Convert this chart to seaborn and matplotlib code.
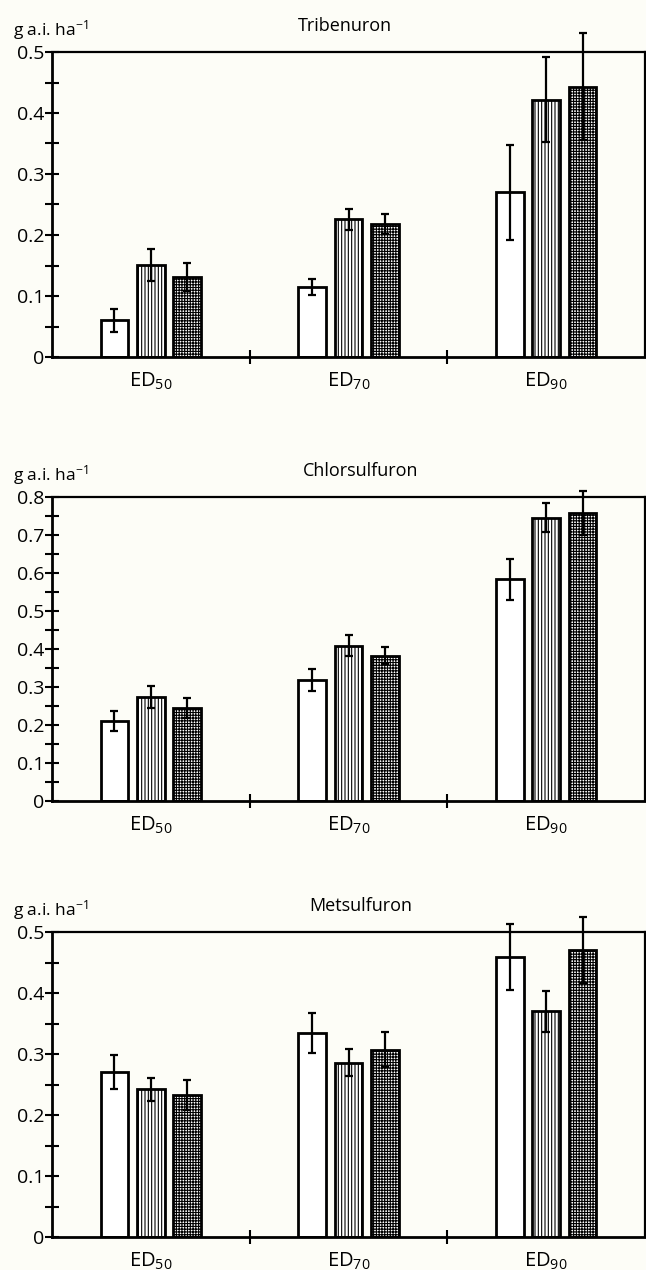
import numpy as np
import pandas as pd
import matplotlib
matplotlib.use("Agg")
import matplotlib.pyplot as plt
from matplotlib.ticker import MultipleLocator, FixedLocator, FuncFormatter
from matplotlib.container import BarContainer
import seaborn as sns

# ---------------- data ----------------
levels = ["ED50", "ED70", "ED90"]
level_labels = ["ED$_{50}$", "ED$_{70}$", "ED$_{90}$"]
series = ["S1", "S2", "S3"]
herbicides = ["Tribenuron", "Chlorsulfuron", "Metsulfuron"]

# values: rows = series (S1 white, S2 vertical hatch, S3 cross hatch), cols = ED50, ED70, ED90
trib_vals = [[0.060, 0.115, 0.270],
             [0.151, 0.226, 0.422],
             [0.131, 0.218, 0.443]]
trib_err = [[0.019, 0.013, 0.078],
            [0.026, 0.017, 0.069],
            [0.023, 0.017, 0.088]]

chlor_vals = [[0.211, 0.318, 0.583],
              [0.273, 0.409, 0.746],
              [0.244, 0.382, 0.757]]
chlor_err = [[0.027, 0.029, 0.055],
             [0.029, 0.028, 0.038],
             [0.026, 0.022, 0.058]]

mets_vals = [[0.271, 0.335, 0.459],
             [0.242, 0.286, 0.370],
             [0.233, 0.307, 0.470]]
mets_err = [[0.028, 0.033, 0.054],
            [0.019, 0.022, 0.034],
            [0.025, 0.029, 0.054]]

ymaxes = [0.5, 0.8, 0.5]

# ---------------- style ----------------
sns.set_theme(style="white")
plt.rcParams["font.family"] = ["Open Sans", "DejaVu Sans"]
plt.rcParams["mathtext.fontset"] = "custom"
plt.rcParams["mathtext.rm"] = "Open Sans"
plt.rcParams["mathtext.it"] = "Open Sans:italic"
plt.rcParams["mathtext.bf"] = "Open Sans:bold"
plt.rcParams["hatch.linewidth"] = 0.8
plt.rcParams["hatch.color"] = "black"

bg = "#fdfdf7"
hatches = ["", "|||||", "++++++"]

fig = plt.figure(figsize=(6.46, 12.70), dpi=100, facecolor=bg)

ax_left = 52 / 646
ax_width = 593 / 646
panel_px = [(52, 357), (497, 801), (932, 1237)]
title_x = [0.494, 0.52, 0.52]

all_vals = [trib_vals, chlor_vals, mets_vals]
all_errs = [trib_err, chlor_err, mets_err]

for p, (name, vals, errs, ymax) in enumerate(zip(herbicides, all_vals, all_errs, ymaxes)):
    top_px, bot_px = panel_px[p]
    ax = fig.add_axes([ax_left, 1 - bot_px / 1270, ax_width, (bot_px - top_px) / 1270])
    ax.set_facecolor(bg)

    rows = []
    for si, s in enumerate(series):
        for li, lv in enumerate(levels):
            rows.append({"level": lv, "series": s, "value": vals[si][li], "err": errs[si][li]})
    df = pd.DataFrame(rows)

    sns.barplot(data=df, x="level", y="value", hue="series",
                order=levels, hue_order=series,
                palette=["white"] * 3, edgecolor="black", linewidth=2.0,
                width=0.553, gap=0.24, errorbar=None, legend=False, ax=ax)

    bar_conts = [c for c in ax.containers if isinstance(c, BarContainer)]
    for si, cont in enumerate(bar_conts):
        xs, ys, es = [], [], []
        for li, patch in enumerate(cont.patches):
            patch.set_hatch(hatches[si])
            patch.set_facecolor("white")
            patch.set_edgecolor("black")
            xs.append(patch.get_x() + patch.get_width() / 2)
            ys.append(patch.get_height())
            es.append(df[(df.series == series[si]) & (df.level == levels[li])]["err"].iloc[0])
        eb = ax.errorbar(xs, ys, yerr=es, fmt="none", ecolor="black",
                         elinewidth=1.6, capsize=3.2, capthick=1.6, zorder=5)
        for art in list(eb.lines[1]) + list(eb.lines[2]):
            art.set_clip_on(False)

    ax.set_xlim(-0.5, 2.5)
    ax.set_ylim(0, ymax)

    # spines
    for sp in ax.spines.values():
        sp.set_visible(True)
        sp.set_color("black")
        sp.set_linewidth(1.6)
    ax.spines["left"].set_linewidth(2.0)
    ax.spines["bottom"].set_linewidth(2.0)

    # y ticks
    ax.yaxis.set_major_locator(MultipleLocator(0.1))
    ax.yaxis.set_minor_locator(MultipleLocator(0.05))
    ax.yaxis.set_major_formatter(FuncFormatter(lambda v, _: "0" if abs(v) < 1e-9 else f"{v:.1f}"))
    ax.tick_params(axis="y", which="both", direction="inout", length=9.5, width=1.5,
                   color="black", left=True, right=False, pad=1.0, labelsize=14,
                   labelcolor="black")

    # x ticks: labels at centers, boundary ticks at 0.5/1.5
    ax.set_xticks(range(len(levels)))
    ax.set_xticklabels(level_labels)
    ax.xaxis.set_minor_locator(FixedLocator([0.5, 1.5]))
    ax.tick_params(axis="x", which="major", length=0, pad=10, labelsize=14.5, labelcolor="black")
    ax.tick_params(axis="x", which="minor", direction="inout", length=10, width=1.5,
                   color="black", bottom=True, top=False)
    ax.set_xlabel("")
    ax.set_ylabel("")

    ax.annotate("g a.i. ha$^{-1}$", xy=(0, 1), xycoords="axes fraction",
                xytext=(-28, 16), textcoords="offset points",
                ha="left", va="center", fontsize=12.5, color="black")
    ax.annotate(name, xy=(title_x[p], 1), xycoords="axes fraction",
                xytext=(0, 19), textcoords="offset points",
                ha="center", va="center", fontsize=13, color="black")

fig.savefig("out.png", dpi=100, facecolor=bg)
